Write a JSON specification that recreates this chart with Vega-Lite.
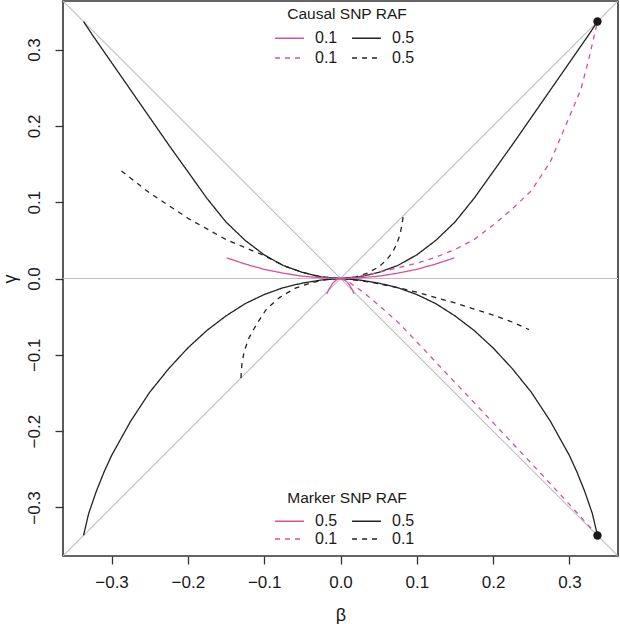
{
  "$schema": "https://vega.github.io/schema/vega-lite/v6.json",
  "width": 555,
  "height": 555,
  "autosize": {"type": "none"},
  "padding": {"left": 63, "top": 1, "right": 2, "bottom": 68},
  "config": {
    "font": "Liberation Sans",
    "view": {"stroke": "#333333", "strokeWidth": 1.6},
    "axis": {"grid": false, "domain": false, "tickColor": "#333333", "tickWidth": 1.3, "tickSize": 8, "labelColor": "#1a1a1a", "titleColor": "#1a1a1a", "labelFontSize": 17, "titleFontSize": 18, "titleFontWeight": "normal", "labelPadding": 10}
  },
  "datasets": {
    "curves": [
      {"curve":"A","style":"ks","beta":-0.3367,"gamma":0.3367},
      {"curve":"A","style":"ks","beta":-0.325,"gamma":0.319},
      {"curve":"A","style":"ks","beta":-0.3,"gamma":0.283},
      {"curve":"A","style":"ks","beta":-0.275,"gamma":0.247},
      {"curve":"A","style":"ks","beta":-0.25,"gamma":0.211},
      {"curve":"A","style":"ks","beta":-0.225,"gamma":0.175},
      {"curve":"A","style":"ks","beta":-0.2,"gamma":0.14},
      {"curve":"A","style":"ks","beta":-0.175,"gamma":0.105},
      {"curve":"A","style":"ks","beta":-0.15,"gamma":0.074},
      {"curve":"A","style":"ks","beta":-0.125,"gamma":0.05},
      {"curve":"A","style":"ks","beta":-0.1,"gamma":0.031},
      {"curve":"A","style":"ks","beta":-0.075,"gamma":0.017},
      {"curve":"A","style":"ks","beta":-0.05,"gamma":0.008},
      {"curve":"A","style":"ks","beta":-0.025,"gamma":0.002},
      {"curve":"A","style":"ks","beta":0,"gamma":0},
      {"curve":"A","style":"ks","beta":0.025,"gamma":0.002},
      {"curve":"A","style":"ks","beta":0.05,"gamma":0.008},
      {"curve":"A","style":"ks","beta":0.075,"gamma":0.017},
      {"curve":"A","style":"ks","beta":0.1,"gamma":0.031},
      {"curve":"A","style":"ks","beta":0.125,"gamma":0.05},
      {"curve":"A","style":"ks","beta":0.15,"gamma":0.074},
      {"curve":"A","style":"ks","beta":0.175,"gamma":0.105},
      {"curve":"A","style":"ks","beta":0.2,"gamma":0.14},
      {"curve":"A","style":"ks","beta":0.225,"gamma":0.175},
      {"curve":"A","style":"ks","beta":0.25,"gamma":0.211},
      {"curve":"A","style":"ks","beta":0.275,"gamma":0.247},
      {"curve":"A","style":"ks","beta":0.3,"gamma":0.283},
      {"curve":"A","style":"ks","beta":0.325,"gamma":0.319},
      {"curve":"A","style":"ks","beta":0.3367,"gamma":0.3367},
      {"curve":"E","style":"ks","beta":-0.3367,"gamma":-0.3367},
      {"curve":"E","style":"ks","beta":-0.33,"gamma":-0.308},
      {"curve":"E","style":"ks","beta":-0.32,"gamma":-0.279},
      {"curve":"E","style":"ks","beta":-0.31,"gamma":-0.254},
      {"curve":"E","style":"ks","beta":-0.3,"gamma":-0.232},
      {"curve":"E","style":"ks","beta":-0.275,"gamma":-0.187},
      {"curve":"E","style":"ks","beta":-0.25,"gamma":-0.149},
      {"curve":"E","style":"ks","beta":-0.225,"gamma":-0.118},
      {"curve":"E","style":"ks","beta":-0.2,"gamma":-0.091},
      {"curve":"E","style":"ks","beta":-0.175,"gamma":-0.068},
      {"curve":"E","style":"ks","beta":-0.15,"gamma":-0.049},
      {"curve":"E","style":"ks","beta":-0.125,"gamma":-0.033},
      {"curve":"E","style":"ks","beta":-0.1,"gamma":-0.021},
      {"curve":"E","style":"ks","beta":-0.075,"gamma":-0.012},
      {"curve":"E","style":"ks","beta":-0.05,"gamma":-0.006},
      {"curve":"E","style":"ks","beta":-0.025,"gamma":-0.002},
      {"curve":"E","style":"ks","beta":0,"gamma":0},
      {"curve":"E","style":"ks","beta":0.025,"gamma":-0.002},
      {"curve":"E","style":"ks","beta":0.05,"gamma":-0.006},
      {"curve":"E","style":"ks","beta":0.075,"gamma":-0.012},
      {"curve":"E","style":"ks","beta":0.1,"gamma":-0.021},
      {"curve":"E","style":"ks","beta":0.125,"gamma":-0.033},
      {"curve":"E","style":"ks","beta":0.15,"gamma":-0.049},
      {"curve":"E","style":"ks","beta":0.175,"gamma":-0.068},
      {"curve":"E","style":"ks","beta":0.2,"gamma":-0.091},
      {"curve":"E","style":"ks","beta":0.225,"gamma":-0.118},
      {"curve":"E","style":"ks","beta":0.25,"gamma":-0.149},
      {"curve":"E","style":"ks","beta":0.275,"gamma":-0.187},
      {"curve":"E","style":"ks","beta":0.3,"gamma":-0.232},
      {"curve":"E","style":"ks","beta":0.31,"gamma":-0.254},
      {"curve":"E","style":"ks","beta":0.32,"gamma":-0.279},
      {"curve":"E","style":"ks","beta":0.33,"gamma":-0.308},
      {"curve":"E","style":"ks","beta":0.3367,"gamma":-0.3367},
      {"curve":"B","style":"kd","beta":-0.287,"gamma":0.141},
      {"curve":"B","style":"kd","beta":-0.25,"gamma":0.112},
      {"curve":"B","style":"kd","beta":-0.2,"gamma":0.079},
      {"curve":"B","style":"kd","beta":-0.15,"gamma":0.051},
      {"curve":"B","style":"kd","beta":-0.1,"gamma":0.03},
      {"curve":"B","style":"kd","beta":-0.075,"gamma":0.017},
      {"curve":"B","style":"kd","beta":-0.05,"gamma":0.008},
      {"curve":"B","style":"kd","beta":-0.025,"gamma":0.002},
      {"curve":"B","style":"kd","beta":0,"gamma":0},
      {"curve":"B","style":"kd","beta":0.02,"gamma":0.002},
      {"curve":"B","style":"kd","beta":0.035,"gamma":0.007},
      {"curve":"B","style":"kd","beta":0.05,"gamma":0.015},
      {"curve":"B","style":"kd","beta":0.06,"gamma":0.024},
      {"curve":"B","style":"kd","beta":0.068,"gamma":0.034},
      {"curve":"B","style":"kd","beta":0.074,"gamma":0.046},
      {"curve":"B","style":"kd","beta":0.078,"gamma":0.058},
      {"curve":"B","style":"kd","beta":0.0805,"gamma":0.07},
      {"curve":"B","style":"kd","beta":0.082,"gamma":0.081},
      {"curve":"F","style":"kd","beta":-0.1305,"gamma":-0.1305},
      {"curve":"F","style":"kd","beta":-0.129,"gamma":-0.11},
      {"curve":"F","style":"kd","beta":-0.126,"gamma":-0.095},
      {"curve":"F","style":"kd","beta":-0.12,"gamma":-0.078},
      {"curve":"F","style":"kd","beta":-0.11,"gamma":-0.06},
      {"curve":"F","style":"kd","beta":-0.097,"gamma":-0.04},
      {"curve":"F","style":"kd","beta":-0.08,"gamma":-0.025},
      {"curve":"F","style":"kd","beta":-0.06,"gamma":-0.013},
      {"curve":"F","style":"kd","beta":-0.04,"gamma":-0.006},
      {"curve":"F","style":"kd","beta":-0.02,"gamma":-0.0015},
      {"curve":"F","style":"kd","beta":0,"gamma":0},
      {"curve":"F","style":"kd","beta":0.02,"gamma":-0.002},
      {"curve":"F","style":"kd","beta":0.04,"gamma":-0.005},
      {"curve":"F","style":"kd","beta":0.06,"gamma":-0.009},
      {"curve":"F","style":"kd","beta":0.08,"gamma":-0.013},
      {"curve":"F","style":"kd","beta":0.1,"gamma":-0.018},
      {"curve":"F","style":"kd","beta":0.125,"gamma":-0.025},
      {"curve":"F","style":"kd","beta":0.15,"gamma":-0.032},
      {"curve":"F","style":"kd","beta":0.175,"gamma":-0.04},
      {"curve":"F","style":"kd","beta":0.2,"gamma":-0.048},
      {"curve":"F","style":"kd","beta":0.225,"gamma":-0.057},
      {"curve":"F","style":"kd","beta":0.247,"gamma":-0.067},
      {"curve":"C","style":"ps","beta":-0.149,"gamma":0.027},
      {"curve":"C","style":"ps","beta":-0.125,"gamma":0.019},
      {"curve":"C","style":"ps","beta":-0.1,"gamma":0.012},
      {"curve":"C","style":"ps","beta":-0.075,"gamma":0.007},
      {"curve":"C","style":"ps","beta":-0.05,"gamma":0.003},
      {"curve":"C","style":"ps","beta":-0.025,"gamma":0.001},
      {"curve":"C","style":"ps","beta":0,"gamma":0},
      {"curve":"C","style":"ps","beta":0.025,"gamma":0.001},
      {"curve":"C","style":"ps","beta":0.05,"gamma":0.003},
      {"curve":"C","style":"ps","beta":0.075,"gamma":0.007},
      {"curve":"C","style":"ps","beta":0.1,"gamma":0.012},
      {"curve":"C","style":"ps","beta":0.125,"gamma":0.019},
      {"curve":"C","style":"ps","beta":0.149,"gamma":0.027},
      {"curve":"H","style":"ps","beta":-0.018,"gamma":-0.02},
      {"curve":"H","style":"ps","beta":-0.015,"gamma":-0.014},
      {"curve":"H","style":"ps","beta":-0.01,"gamma":-0.006},
      {"curve":"H","style":"ps","beta":-0.005,"gamma":-0.0015},
      {"curve":"H","style":"ps","beta":0,"gamma":0},
      {"curve":"H","style":"ps","beta":0.005,"gamma":-0.0015},
      {"curve":"H","style":"ps","beta":0.01,"gamma":-0.006},
      {"curve":"H","style":"ps","beta":0.015,"gamma":-0.014},
      {"curve":"H","style":"ps","beta":0.018,"gamma":-0.02},
      {"curve":"D","style":"pd","beta":0,"gamma":0},
      {"curve":"D","style":"pd","beta":0.025,"gamma":0.003},
      {"curve":"D","style":"pd","beta":0.05,"gamma":0.008},
      {"curve":"D","style":"pd","beta":0.075,"gamma":0.014},
      {"curve":"D","style":"pd","beta":0.1,"gamma":0.02},
      {"curve":"D","style":"pd","beta":0.125,"gamma":0.028},
      {"curve":"D","style":"pd","beta":0.15,"gamma":0.038},
      {"curve":"D","style":"pd","beta":0.175,"gamma":0.051},
      {"curve":"D","style":"pd","beta":0.2,"gamma":0.07},
      {"curve":"D","style":"pd","beta":0.225,"gamma":0.091},
      {"curve":"D","style":"pd","beta":0.25,"gamma":0.115},
      {"curve":"D","style":"pd","beta":0.275,"gamma":0.153},
      {"curve":"D","style":"pd","beta":0.3,"gamma":0.212},
      {"curve":"D","style":"pd","beta":0.315,"gamma":0.248},
      {"curve":"D","style":"pd","beta":0.325,"gamma":0.286},
      {"curve":"D","style":"pd","beta":0.3367,"gamma":0.3367},
      {"curve":"G","style":"pd","beta":0,"gamma":0},
      {"curve":"G","style":"pd","beta":0.01,"gamma":-0.004},
      {"curve":"G","style":"pd","beta":0.03,"gamma":-0.018},
      {"curve":"G","style":"pd","beta":0.05,"gamma":-0.035},
      {"curve":"G","style":"pd","beta":0.075,"gamma":-0.057},
      {"curve":"G","style":"pd","beta":0.1,"gamma":-0.083},
      {"curve":"G","style":"pd","beta":0.13,"gamma":-0.115},
      {"curve":"G","style":"pd","beta":0.165,"gamma":-0.152},
      {"curve":"G","style":"pd","beta":0.2,"gamma":-0.189},
      {"curve":"G","style":"pd","beta":0.25,"gamma":-0.242},
      {"curve":"G","style":"pd","beta":0.3,"gamma":-0.296},
      {"curve":"G","style":"pd","beta":0.3367,"gamma":-0.3367}
    ],
    "refs": [
      {"ref":"d1","beta":-0.3636,"gamma":-0.3636},
      {"ref":"d1","beta":0.3636,"gamma":0.3636},
      {"ref":"d2","beta":-0.3636,"gamma":0.3636},
      {"ref":"d2","beta":0.3636,"gamma":-0.3636},
      {"ref":"h","beta":-0.3636,"gamma":0},
      {"ref":"h","beta":0.3636,"gamma":0}
    ],
    "dots": [
      {"beta":0.3367,"gamma":0.3367},
      {"beta":0.3367,"gamma":-0.3367}
    ]
  },
  "encoding": {
    "x": {"field": "beta", "type": "quantitative",
      "scale": {"domain": [-0.3636, 0.3636], "nice": false, "zero": false},
      "axis": {"values": [-0.3, -0.2, -0.1, 0, 0.1, 0.2, 0.3], "format": ".1f", "title": "β", "titlePadding": 16}},
    "y": {"field": "gamma", "type": "quantitative",
      "scale": {"domain": [-0.3636, 0.3636], "nice": false, "zero": false},
      "axis": {"values": [-0.3, -0.2, -0.1, 0, 0.1, 0.2, 0.3], "format": ".1f", "title": "γ", "labelAngle": -90, "labelAlign": "center", "labelBaseline": "alphabetic", "labelPadding": 16, "titlePadding": 6}}
  },
  "layer": [
    {
      "data": {"name": "refs"},
      "mark": {"type": "line", "color": "#bebebe", "strokeWidth": 1.1, "clip": true},
      "encoding": {"detail": {"field": "ref"}}
    },
    {
      "data": {"name": "curves"},
      "mark": {"type": "line", "strokeWidth": 1.3, "clip": true},
      "encoding": {
        "detail": {"field": "curve"},
        "color": {"field": "style", "type": "nominal",
          "scale": {"domain": ["ps", "pd", "ks", "kd"], "range": ["#d4519b", "#d4519b", "#222222", "#222222"]},
          "legend": {"title": "Causal SNP RAF", "orient": "none", "legendX": 217, "legendY": 6, "columns": 2, "symbolType": "M-1.7,0H1.7", "symbolSize": 289, "symbolStrokeWidth": 1.3, "labelFontSize": 16, "titleFontSize": 15.5, "titleFontWeight": "normal", "titleAnchor": "middle", "labelOffset": 16, "columnPadding": 11, "rowPadding": 2, "titlePadding": 6, "padding": 0, "labelColor": "#1a1a1a", "titleColor": "#1a1a1a", "labelExpr": "datum.value == 'ps' || datum.value == 'pd' ? '0.1' : '0.5'"}},
        "strokeDash": {"field": "style", "type": "nominal",
          "scale": {"domain": ["ps", "pd", "ks", "kd"], "range": [[1, 0], [5, 5], [1, 0], [5, 5]]},
          "legend": {"title": "Causal SNP RAF", "orient": "none", "legendX": 217, "legendY": 6, "columns": 2, "symbolType": "M-1.7,0H1.7", "symbolSize": 289, "symbolStrokeWidth": 1.3, "labelFontSize": 16, "titleFontSize": 15.5, "titleFontWeight": "normal", "titleAnchor": "middle", "labelOffset": 16, "columnPadding": 11, "rowPadding": 2, "titlePadding": 6, "padding": 0, "labelColor": "#1a1a1a", "titleColor": "#1a1a1a", "labelExpr": "datum.value == 'ps' || datum.value == 'pd' ? '0.1' : '0.5'"}}
      }
    },
    {
      "data": {"name": "curves"},
      "transform": [{"filter": "datum.beta > 1"}],
      "mark": {"type": "line", "strokeWidth": 1.3, "clip": true},
      "encoding": {
        "detail": {"field": "curve"},
        "color": {"field": "style", "type": "nominal",
          "scale": {"domain": ["ps", "pd", "ks", "kd"], "range": ["#d4519b", "#d4519b", "#222222", "#222222"]},
          "legend": {"title": "Marker SNP RAF", "orient": "none", "legendX": 217, "legendY": 490, "columns": 2, "symbolType": "M-1.7,0H1.7", "symbolSize": 289, "symbolStrokeWidth": 1.3, "labelFontSize": 16, "titleFontSize": 15.5, "titleFontWeight": "normal", "titleAnchor": "middle", "labelOffset": 16, "columnPadding": 11, "rowPadding": 0, "titlePadding": 5, "padding": 0, "labelColor": "#1a1a1a", "titleColor": "#1a1a1a", "labelExpr": "datum.value == 'ps' || datum.value == 'ks' ? '0.5' : '0.1'"}},
        "strokeDash": {"field": "style", "type": "nominal",
          "scale": {"domain": ["ps", "pd", "ks", "kd"], "range": [[1, 0], [5, 5], [1, 0], [5, 5]]},
          "legend": {"title": "Marker SNP RAF", "orient": "none", "legendX": 217, "legendY": 490, "columns": 2, "symbolType": "M-1.7,0H1.7", "symbolSize": 289, "symbolStrokeWidth": 1.3, "labelFontSize": 16, "titleFontSize": 15.5, "titleFontWeight": "normal", "titleAnchor": "middle", "labelOffset": 16, "columnPadding": 11, "rowPadding": 0, "titlePadding": 5, "padding": 0, "labelColor": "#1a1a1a", "titleColor": "#1a1a1a", "labelExpr": "datum.value == 'ps' || datum.value == 'ks' ? '0.5' : '0.1'"}}
      }
    },
    {
      "data": {"name": "dots"},
      "mark": {"type": "point", "filled": true, "color": "#1a1a1a", "size": 70, "opacity": 1}
    }
  ],
  "resolve": {
    "scale": {"color": "independent", "strokeDash": "independent"},
    "legend": {"color": "independent", "strokeDash": "independent"}
  }
}
